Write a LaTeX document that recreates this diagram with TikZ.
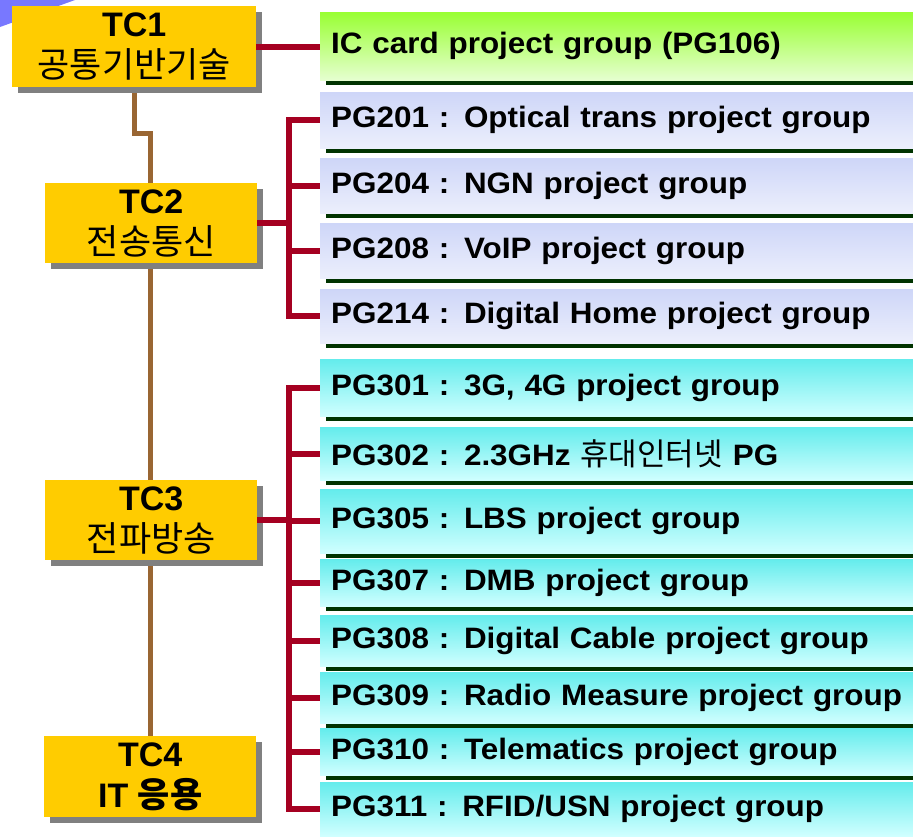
\documentclass[tikz,border=0pt]{standalone}
\usepackage{fontspec}
\setmainfont{Liberation Sans}
\newfontfamily\pgfont{Liberation Sans}[FakeStretch=1.065]
\newfontfamily\kr{Noto Sans CJK KR}
\usetikzlibrary{shadows,backgrounds}

\definecolor{tcgold}{RGB}{255,204,0}
\definecolor{tcshadow}{RGB}{128,128,128}
\definecolor{trunk}{RGB}{153,102,51}
\definecolor{wirered}{RGB}{165,0,33}
\definecolor{bargreen}{RGB}{0,51,0}
\definecolor{greentop}{RGB}{153,255,51}
\definecolor{greenbot}{RGB}{230,255,208}
\definecolor{lavtop}{RGB}{206,214,248}
\definecolor{lavbot}{RGB}{236,239,252}
\definecolor{cyantop}{RGB}{100,236,236}
\definecolor{cyanbot}{RGB}{208,255,255}
\definecolor{cornerblue}{RGB}{120,120,255}

% Hangul line inside a committee box
\newcommand{\tchangul}[1]{{\kr\mdseries\fontsize{35}{41}\selectfont #1}}
% group label, set a little below the box centre
\newcommand{\grouplabel}[1]{\lower3pt\hbox{#1}}

\tikzset{
  tcbox/.style={rectangle, anchor=north west, fill=tcgold, inner sep=0pt, align=center,
    font=\bfseries\fontsize{34}{41}\selectfont,
    drop shadow={shadow xshift=6pt, shadow yshift=-6pt, fill=tcshadow, opacity=1}},
  pgbox/.style={rectangle, anchor=north west, inner xsep=11pt, inner ysep=0pt,
    text width=620pt, minimum width=642pt, align=left,
    font=\pgfont\bfseries\fontsize{29.5}{32}\selectfont,
    drop shadow={shadow xshift=6pt, shadow yshift=-5pt, fill=bargreen, opacity=1}},
  grpone/.style={pgbox, top color=greentop, bottom color=greenbot},
  grptwo/.style={pgbox, top color=lavtop, bottom color=lavbot},
  grpthree/.style={pgbox, top color=cyantop, bottom color=cyanbot},
  trunkline/.style={draw=trunk, line width=5pt},
  wire/.style={draw=wirered, line width=6pt}
}

\begin{document}
\begin{tikzpicture}[x=1pt, y=-1pt]
\useasboundingbox (0,0) rectangle (913,836);
\clip (0,0) rectangle (913,836);

% corner ornament
\fill[cornerblue] (0,0) -- (75,0) -- (0,27) -- cycle;

% technical committees
\node[tcbox, minimum width=244pt, minimum height=81pt] (tc1) at (12,6)
  {TC1\\\tchangul{공통기반기술}};
\node[tcbox, minimum width=212pt, minimum height=80pt] (tc2) at (45,183)
  {TC2\\\tchangul{전송통신}};
\node[tcbox, minimum width=212pt, minimum height=80pt] (tc3) at (45,480)
  {TC3\\\tchangul{전파방송}};
\node[tcbox, minimum width=212pt, minimum height=81pt] (tc4) at (44,736)
  {TC4\\IT {\kr\fontsize{35}{41}\selectfont 응용}};

% project groups
\node[grpone, minimum height=68pt] (pg106) at (320,12) {\grouplabel{IC card project group (PG106)}};

\node[grptwo, minimum height=56pt] (pg201) at (320,92) {\grouplabel{PG201 : Optical trans project group}};
\node[grptwo, minimum height=55pt] (pg204) at (320,158) {\grouplabel{PG204 : NGN project group}};
\node[grptwo, minimum height=55pt] (pg208) at (320,223) {\grouplabel{PG208 : VoIP project group}};
\node[grptwo, minimum height=54pt] (pg214) at (320,289) {\grouplabel{PG214 : Digital Home project group}};

\node[grpthree, minimum height=57pt] (pg301) at (320,359) {\grouplabel{PG301 : 3G, 4G project group}};
\node[grpthree, minimum height=53pt] (pg302) at (320,427) {\grouplabel{PG302 : 2.3GHz {\kr\mdseries\fontsize{31}{32}\selectfont 휴대인터넷} PG}};
\node[grpthree, minimum height=64pt] (pg305) at (320,489) {\grouplabel{PG305 : LBS project group}};
\node[grpthree, minimum height=47pt] (pg307) at (320,559) {\grouplabel{PG307 : DMB project group}};
\node[grpthree, minimum height=51pt] (pg308) at (320,615) {\grouplabel{PG308 : Digital Cable project group}};
\node[grpthree, minimum height=51pt] (pg309) at (320,672) {\grouplabel{PG309 : Radio Measure project group}};
\node[grpthree, minimum height=47pt] (pg310) at (320,728) {\grouplabel{PG310 : Telematics project group}};
\node[grpthree, minimum height=54pt] (pg311) at (320,782) {\grouplabel{PG311 : RFID/USN project group}};

% committee trunk behind the boxes
\begin{scope}[on background layer]
  \draw[trunkline] (tc1.south) -- ++(0,46) -| (tc4.north);
\end{scope}

% branch connectors
\coordinate (bustwo) at (289,0);
\coordinate (busthree) at (289,0);
\draw[wire] (tc1.east) -- (tc1.east -| pg106.west);
\foreach \p in {pg201,pg204,pg208,pg214}
  \draw[wire] (tc2.east) -- (tc2.east -| bustwo) |- (\p.west);
\foreach \p in {pg301,pg302,pg305,pg307,pg308,pg309,pg310,pg311}
  \draw[wire] (tc3.east) -- (tc3.east -| busthree) |- (\p.west);
\end{tikzpicture}
\end{document}
